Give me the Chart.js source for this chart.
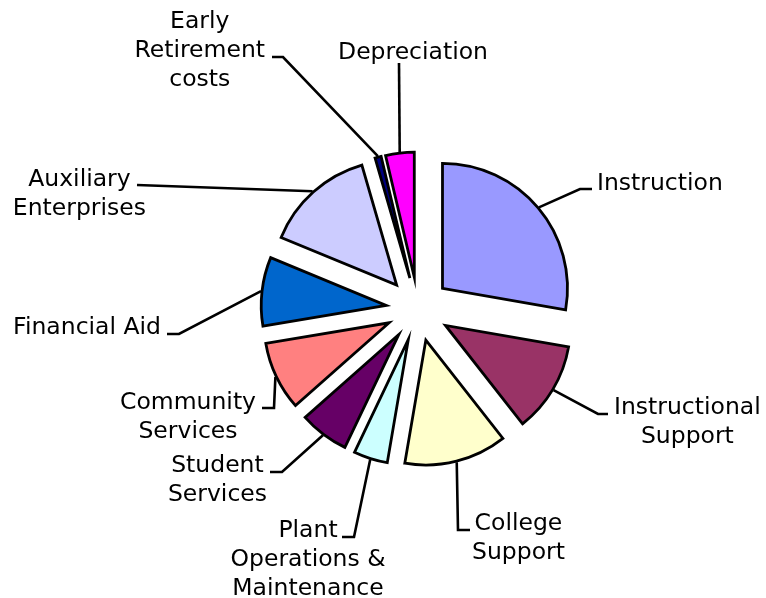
<!DOCTYPE html>
<html>
<head>
<meta charset="utf-8">
<title>Expenses by function</title>
<script src="https://cdn.jsdelivr.net/npm/chart.js@4.4.1/dist/chart.umd.min.js"></script>
<style>
  html, body { margin: 0; padding: 0; background: #fff; }
  canvas { display: block; }
</style>
</head>
<body>
<canvas id="pieChart" width="766" height="598"></canvas>
<script>
// Share of expenses per function (percent)
const categories = ['Instruction', 'Instructional Support', 'College Support', 'Plant Operations & Maintenance',
    'Student Services', 'Community Services', 'Financial Aid', 'Auxiliary Enterprises',
    'Early Retirement costs', 'Depreciation'];
const shares = [27.8, 11.7, 13.3, 4.4, 6.4, 8.9, 8.9, 14.3, 0.8, 3.7];
const sliceColors = ['#9999FF', '#993366', '#FFFFCC', '#CCFFFF', '#660066',
    '#FF8080', '#0066CC', '#CCCCFF', '#000080', '#FF00FF'];

// Label text, split into lines like the original
const labelLines = [
    ['Instruction'],
    ['Instructional', 'Support'],
    ['College', 'Support'],
    ['Plant', 'Operations &', 'Maintenance'],
    ['Student', 'Services'],
    ['Community', 'Services'],
    ['Financial Aid'],
    ['Auxiliary', 'Enterprises'],
    ['Early', 'Retirement', 'costs'],
    ['Depreciation']
];

// Where each label sits and where its leader line bends / ends
const labelLayout = [
    { x: 597, align: 'left', y: 190, bend: [580, 189], end: [592, 189] },
    { x: 614, align: 'left', y: 414, bend: [598, 414], end: [608, 414] },
    { x: 472, align: 'left', y: 530, bend: [458, 530], end: [470, 530] },
    { x: 308, align: 'center', y: 537, bend: [354, 537], end: [342, 537] },
    { x: 267, align: 'right', y: 472, bend: [282, 472], end: [270, 472] },
    { x: 256, align: 'right', y: 409, bend: [274, 408], end: [262, 408] },
    { x: 161, align: 'right', y: 334, bend: [179, 334], end: [167, 334] },
    { x: 146, align: 'right', y: 186, bend: [137, 185], end: [137, 185] },
    { x: 265, align: 'right', y: 28, bend: [283, 57], end: [272, 57] },
    { x: 413, align: 'center', y: 59, bend: [399, 63], end: [399, 63] }
];

const EXPLODE = 32;   // every slice is pulled out by the same distance
const FONT = '23.5px "DejaVu Sans", Verdana, sans-serif';
const LINE_H = 29;

// Pull each slice out along its middle angle
const explodePlugin = {
    id: 'explode',
    afterDatasetUpdate(chart, args) {
        args.meta.data.forEach(arc => {
            const mid = (arc.startAngle + arc.endAngle) / 2;
            arc.x += Math.cos(mid) * EXPLODE;
            arc.y += Math.sin(mid) * EXPLODE;
        });
    }
};

// Category labels with leader lines
const labelPlugin = {
    id: 'sliceLabels',
    afterDatasetsDraw(chart) {
        const ctx = chart.ctx;
        const arcs = chart.getDatasetMeta(0).data;
        ctx.save();
        ctx.font = FONT;
        ctx.fillStyle = '#000';
        ctx.strokeStyle = '#000';
        ctx.lineWidth = 2.6;
        ctx.lineJoin = 'miter';
        arcs.forEach((arc, i) => {
            const lay = labelLayout[i];
            const mid = (arc.startAngle + arc.endAngle) / 2;
            const r = arc.outerRadius + 1;
            ctx.beginPath();
            ctx.moveTo(arc.x + Math.cos(mid) * r, arc.y + Math.sin(mid) * r);
            ctx.lineTo(lay.bend[0], lay.bend[1]);
            ctx.lineTo(lay.end[0], lay.end[1]);
            ctx.stroke();

            const lines = labelLines[i];
            const w = Math.max(...lines.map(t => ctx.measureText(t).width));
            let left = lay.x - w / 2;
            if (lay.align === 'left') left = lay.x;
            if (lay.align === 'right') left = lay.x - w;
            ctx.textAlign = 'center';
            ctx.textBaseline = 'alphabetic';
            lines.forEach((t, k) => ctx.fillText(t, left + w / 2, lay.y + k * LINE_H));
        });
        ctx.restore();
    }
};

new Chart(document.getElementById('pieChart'), {
    type: 'pie',
    data: {
        labels: categories,
        datasets: [{
            data: shares,
            backgroundColor: sliceColors,
            borderColor: '#000',
            borderWidth: 2.8,
            borderJoinStyle: 'miter',
            radius: 125
        }]
    },
    options: {
        responsive: false,
        animation: false,
        events: [],
        layout: { padding: { left: 70, top: 20, right: 0, bottom: 0 } },
        plugins: {
            legend: { display: false },
            tooltip: { enabled: false }
        }
    },
    plugins: [explodePlugin, labelPlugin]
});
</script>
</body>
</html>
